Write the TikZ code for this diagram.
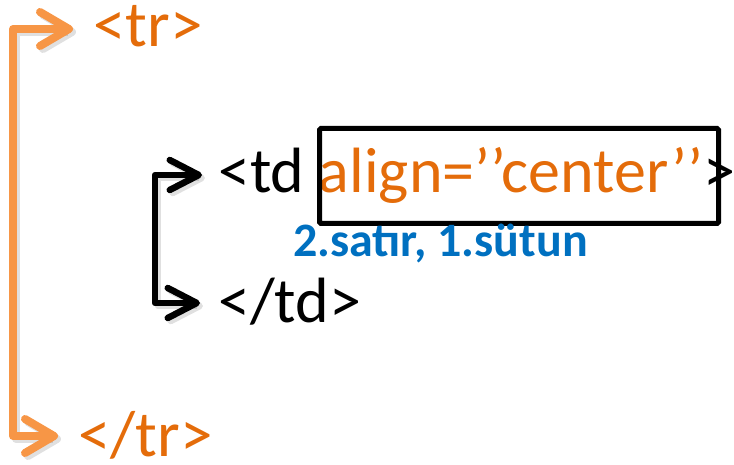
\documentclass[tikz,border=0pt]{standalone}
\usepackage{fontspec}
\setmainfont{Carlito}
\usetikzlibrary{arrows.meta}
\definecolor{tagorange}{HTML}{E46C0A}
\definecolor{arroworange}{HTML}{F79646}
\definecolor{labelblue}{HTML}{0070C0}
\tikzset{
  tagtext/.style={inner sep=0pt, anchor=base west, font=\fontsize{64}{76}\selectfont},
  trtext/.style={inner sep=0pt, anchor=base west, text=tagorange, font=\fontsize{65}{78}\selectfont},
  shadowline/.style={draw=black, opacity=0.12, line join=round, transform canvas={shift={(3pt,-3pt)}}},
  oarrow/.style={draw=arroworange, line width=8pt, line join=round,
    {Straight Barb[round,length=29pt,width=34pt]}-{Straight Barb[round,length=29pt,width=34pt]}},
  barrow/.style={draw=black, line width=6.5pt, line join=round,
    {Straight Barb[round,length=29pt,width=30pt]}-{Straight Barb[round,length=29pt,width=30pt]}},
  hlbox/.style={draw=black, line width=5pt, rounded corners=1.5pt, inner sep=0pt, anchor=north west}
}
\begin{document}
\begin{tikzpicture}[x=1pt,y=-1pt]
\useasboundingbox (0,0) rectangle (734,465);
\node[trtext] (tr) at (93,47) {<tr>};
\node[trtext] (trend) at (78,456) {</tr>};
\node[tagtext] (td) at (218,193) {<td \textcolor{tagorange}{align=’’center’’}>};
\node[tagtext] (tdend) at (218,323) {</td>};
\node[hlbox, minimum width=399pt, minimum height=95pt] (box) at (317,126) {};
\node[inner sep=0pt, anchor=base west, text=labelblue, font=\fontsize{48}{58}\bfseries] (lbl) at (293,257) {2.satır, 1.sütun};
\coordinate (trtip) at (73,29);
\coordinate (trendtip) at (58,436);
\coordinate (tdtip) at (202,175);
\coordinate (tdendtip) at (200,303);
\draw[oarrow, shadowline, line width=8pt] (trtip) -- (13,29) -- (13,436) -- (trendtip);
\draw[barrow, shadowline, line width=6.5pt] (tdtip) -- (155,175) -- (155,303) -- (tdendtip);
\draw[oarrow] (trtip) -- (13,29) -- (13,436) -- (trendtip);
\draw[barrow] (tdtip) -- (155,175) -- (155,303) -- (tdendtip);
\end{tikzpicture}
\end{document}
